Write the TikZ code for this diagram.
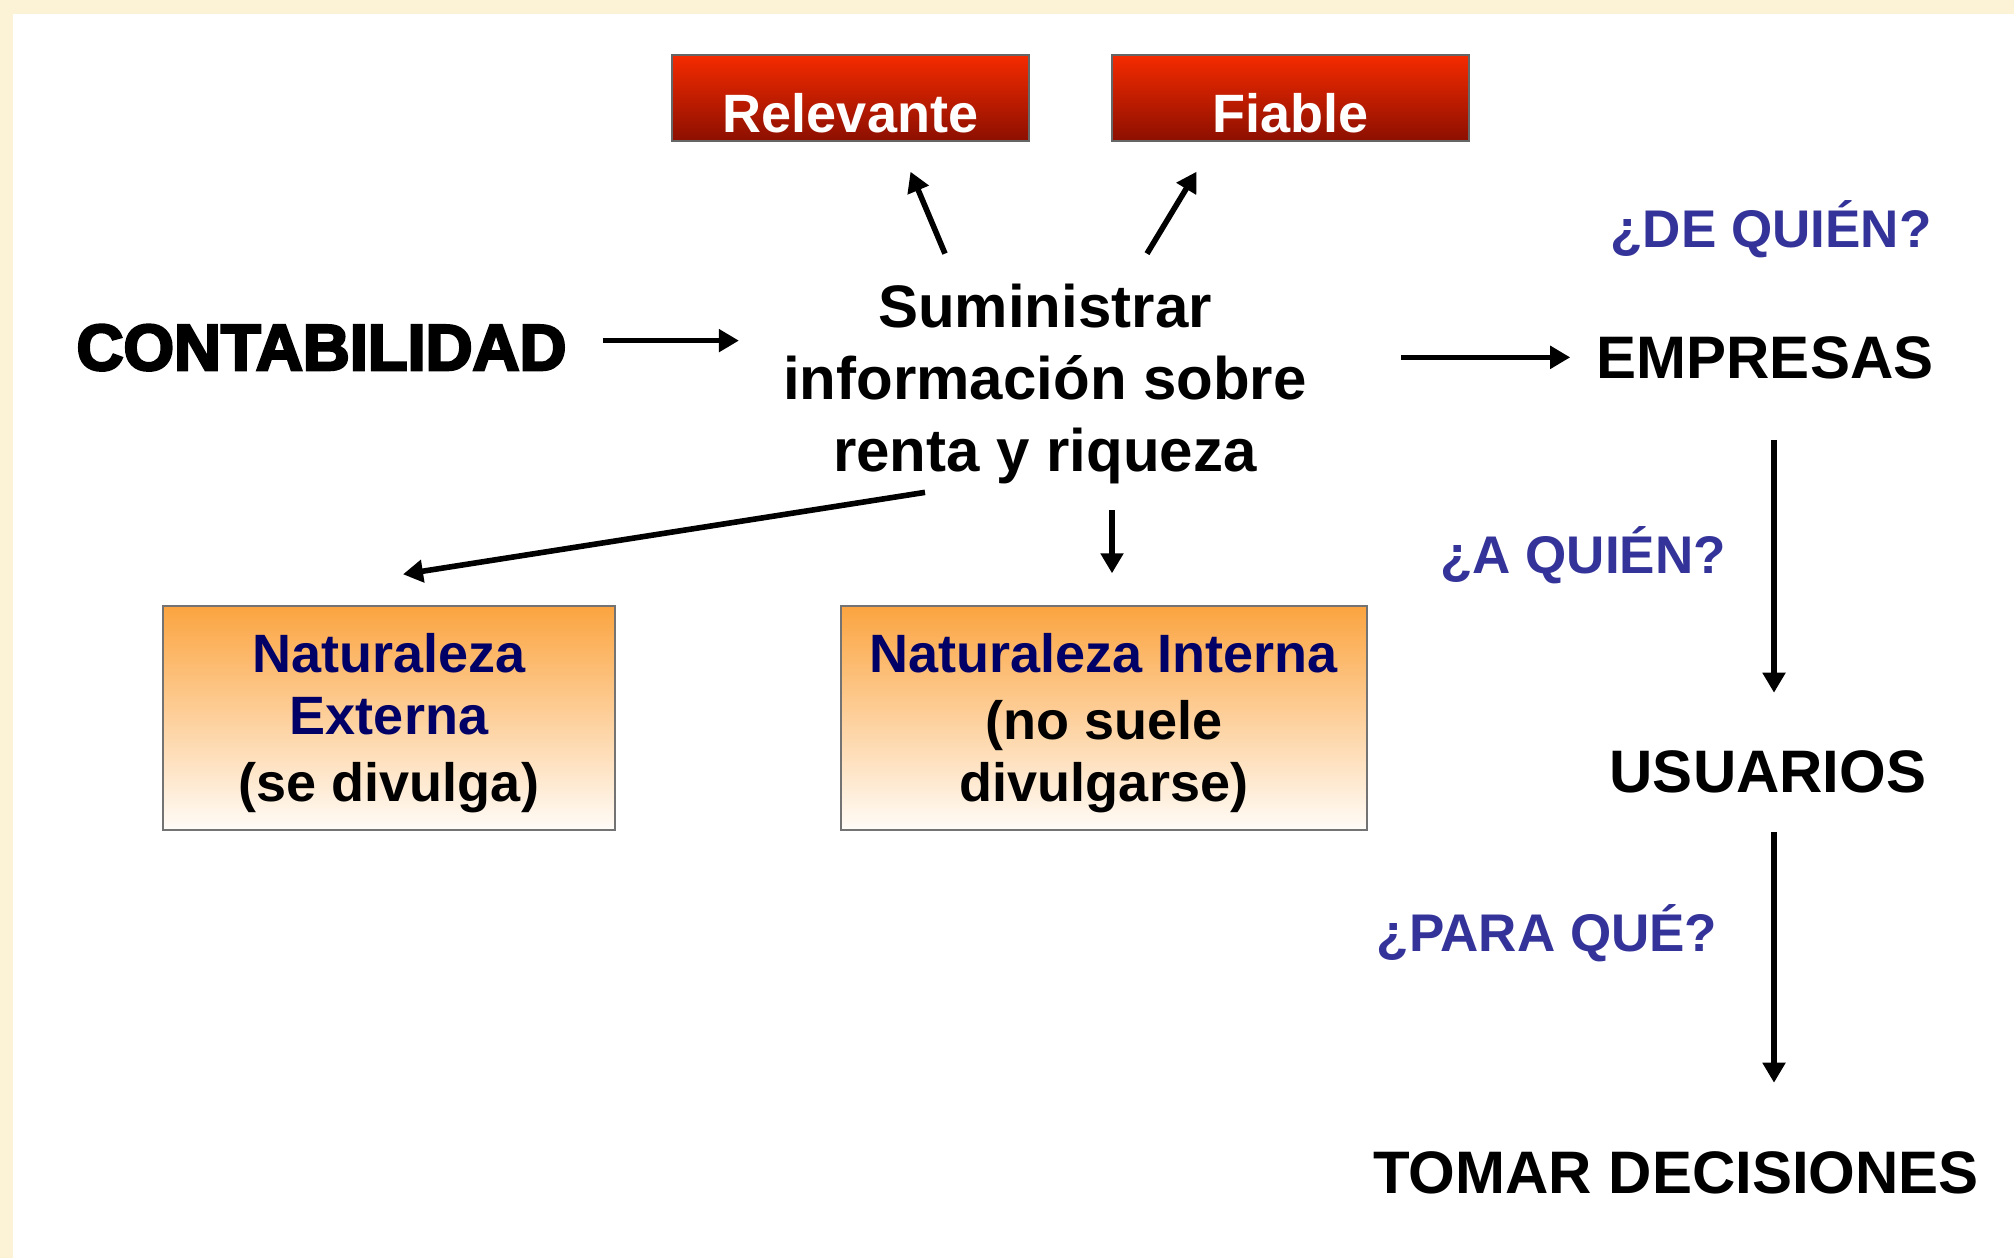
\documentclass[tikz,border=0pt]{standalone}
\usepackage{fontspec}
\setmainfont{Liberation Sans}
\newfontfamily\heavyfont{Liberation Sans Bold}[FakeBold=4]
\usepackage{tikz}
\usetikzlibrary{positioning,arrows.meta,calc}
\definecolor{palCream}{HTML}{FCF2D5}
\definecolor{palRedTop}{HTML}{F52B00}
\definecolor{palRedBot}{HTML}{8C0F00}
\definecolor{palOrange}{HTML}{FBA440}
\definecolor{palOrangeLt}{HTML}{FFFCF8}
\definecolor{palNavy}{HTML}{000066}
\definecolor{palQuest}{HTML}{333399}
\tikzset{
  redbox/.style={draw=black!60, line width=0.7pt, top color=palRedTop,
                 bottom color=palRedBot, text=white, inner sep=0pt,
                 font=\bfseries\fontsize{27}{32}\selectfont,
                 minimum width=178.5pt, minimum height=43pt,
                 text height=34pt, text depth=0pt},
  orangebox/.style={draw=black!55, line width=0.7pt, top color=palOrange,
                    bottom color=palOrangeLt, align=center, inner sep=0pt,
                    font=\bfseries\fontsize{27}{31}\selectfont,
                    minimum height=112pt},
  bigtext/.style={font=\bfseries\fontsize{30}{36}\selectfont, inner sep=0pt,
                  anchor=base},
  questtext/.style={font=\bfseries\fontsize{26.5}{32}\selectfont,
                    text=palQuest, inner sep=0pt, anchor=base},
  flowarrow/.style={-{Triangle[length=10pt,width=11pt]}, line width=2.8pt},
}
\begin{document}
\begin{tikzpicture}[x=0.5pt,y=-0.5pt]
%% Background
\fill[palCream] (0,0) rectangle (2014,1258);
\fill[white] (13,14) rectangle (2014,1258);
\useasboundingbox (0,0) rectangle (2014,1258);
%% Nodes
\node[bigtext, font=\heavyfont\fontsize{32.5}{38}\selectfont] (contab) at (321.5,370) {CONTABILIDAD};
\node[bigtext, anchor=center, align=center] (sum) at (1045,384) {Suministrar\\información sobre\\renta y riqueza};
\node[redbox] (rel) at (850.5,98) {Relevante};
\node[redbox] (fia) at (1290.5,98) {Fiable};
\node[orangebox, minimum width=226pt] (ext) at (389,718)
  {\rule{0pt}{25pt}\textcolor{palNavy}{Naturaleza}\\\textcolor{palNavy}{Externa}\\[2.5pt](se divulga)};
\node[orangebox, minimum width=263pt] (int) at (1104,718)
  {\rule{0pt}{25pt}\textcolor{palNavy}{Naturaleza Interna}\\[2.5pt](no suele\\divulgarse)};
\node[bigtext] (emp) at (1765,378) {EMPRESAS};
\node[bigtext] (usu) at (1768,792) {USUARIOS};
\node[bigtext] (tom) at (1676,1193) {TOMAR DECISIONES};
\node[questtext] (deq) at (1771,247) {¿DE QUIÉN?};
\node[questtext] (aq) at (1583,573) {¿A QUIÉN?};
\node[questtext] (pq) at (1547,951) {¿PARA QUÉ?};
%% Edges
\draw[flowarrow] ($(contab.east)+(18pt,3.5pt)$) -- ($(contab.east -| sum.west)+(-22pt,3.5pt)$);
\draw[flowarrow] ($(sum.north)+(-50pt,15pt)$) -- ($(rel.south)+(30pt,-15pt)$);
\draw[flowarrow] ($(sum.north)+(51pt,15pt)$) -- ($(fia.south)+(-47pt,-15pt)$);
\draw[flowarrow] ($(emp.west -| sum.east)+(47pt,0)$) -- ($(emp.west)+(-13pt,0)$);
\draw[flowarrow] ($(sum.south)+(-60pt,-4pt)$) -- ($(ext.north)+(7pt,15.5pt)$);
\draw[flowarrow] ($(sum.south -| int.north)+(4pt,-13pt)$) -- ($(int.north)+(4pt,16pt)$);
\draw[flowarrow] ($(emp.south)+(4.5pt,-30.5pt)$) -- ($(emp.south |- usu.north)+(4.5pt,28.5pt)$);
\draw[flowarrow] ($(usu.south)+(3pt,-19.5pt)$) -- ($(usu.south |- tom.north)+(3pt,34pt)$);
\end{tikzpicture}
\end{document}
